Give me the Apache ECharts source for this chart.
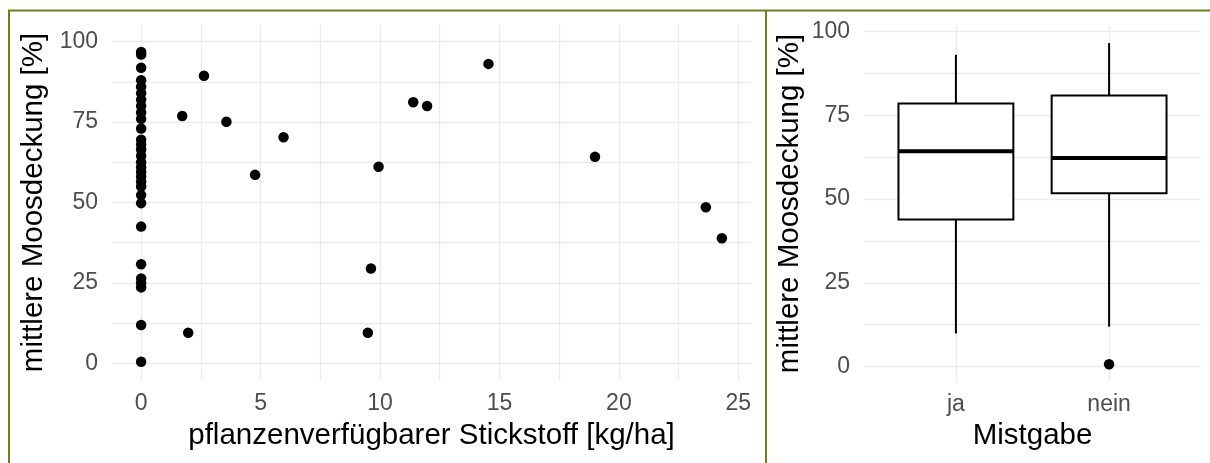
<!DOCTYPE html>
<html>
<head>
<meta charset="utf-8">
<title>Moosdeckung</title>
<script src="https://cdn.jsdelivr.net/npm/echarts@6/dist/echarts.min.js"></script>
<style>
  html, body { margin: 0; padding: 0; background: #fff; }
  #main { width: 1210px; height: 463px; }
</style>
</head>
<body>
<div id="main"></div>
<script>
// Streudiagramm: Stickstoff [kg/ha] gegen mittlere Moosdeckung [%]
var stickstoff = [0, 0, 0, 0, 0, 0, 0, 0, 0, 0,
                  0, 0, 0, 0, 0, 0, 0, 0, 0, 0,
                  0, 0, 0, 0, 0, 0, 0, 0, 0, 0,
                  2.63, 1.72, 3.57, 5.96, 4.77, 1.97, 9.49, 9.62, 9.94,
                  11.39, 11.97, 14.54, 19.0, 23.64, 24.31];
var moos = [96.8, 96.0, 91.9, 88.0, 86.0, 84.0, 82.0, 80.0, 78.0, 76.0,
            73.0, 69.5, 68.0, 66.5, 64.5, 62.5, 61.0, 59.5, 58.0, 56.5,
            55.0, 52.3, 49.8, 42.5, 30.8, 26.4, 24.9, 23.6, 11.9, 0.5,
            89.4, 76.9, 75.1, 70.3, 58.6, 9.5, 9.5, 29.5, 61.1,
            81.2, 80.0, 93.1, 64.2, 48.5, 38.9];

// Boxplot nach Mistgabe
var mistgabe = ['ja', 'nein'];
var boxLow = [9.9, 11.9];
var boxQ1 = [43.9, 51.7];
var boxMedian = [64.2, 62.2];
var boxQ3 = [78.5, 80.9];
var boxHigh = [93.0, 96.5];
var ausreisserGruppe = ['nein'];
var ausreisserWert = [0.7];

// Achsen
var xTicks = [0, 5, 10, 15, 20, 25];
var xGrid = [0, 2.5, 5, 7.5, 10, 12.5, 15, 17.5, 20, 22.5, 25];
var yTicks = [0, 25, 50, 75, 100];
var yGrid = [0, 12.5, 25, 37.5, 50, 62.5, 75, 87.5, 100];

var FONT = 'Liberation Sans, Arial, sans-serif';
var GRID_COL = '#ebebeb';
var FRAME_COL = '#6f7f1a';

var scatterData = stickstoff.map(function (x, i) { return [x, moos[i]]; });
var boxData = mistgabe.map(function (c, i) {
  return [i + 1, boxLow[i], boxQ1[i], boxMedian[i], boxQ3[i], boxHigh[i]];
});
var outlierData = ausreisserGruppe.map(function (c, i) {
  return [mistgabe.indexOf(c) + 1, ausreisserWert[i]];
});

function valueAxis(gridIndex, min, max, labels, lines, opts) {
  var ax = {
    type: 'value',
    gridIndex: gridIndex,
    min: min,
    max: max,
    axisLine: { show: false },
    axisTick: { show: false, customValues: lines },
    axisLabel: {
      customValues: labels,
      color: '#4d4d4d',
      fontSize: 23,
      fontFamily: FONT
    },
    splitLine: { show: true, lineStyle: { color: GRID_COL, width: 1.3 } },
    nameLocation: 'middle',
    nameTextStyle: { color: '#000', fontSize: 29.5, fontFamily: FONT }
  };
  for (var k in opts) {
    if (k === 'axisLabel') {
      for (var j in opts[k]) ax.axisLabel[j] = opts[k][j];
    } else {
      ax[k] = opts[k];
    }
  }
  return ax;
}

function renderBox(params, api) {
  var x = api.value(0);
  var pLo = api.coord([x, api.value(1)]);
  var pQ1 = api.coord([x, api.value(2)]);
  var pMed = api.coord([x, api.value(3)]);
  var pQ3 = api.coord([x, api.value(4)]);
  var pHi = api.coord([x, api.value(5)]);
  var half = api.size([0.75, 0])[0] / 2;
  var thin = { stroke: '#000', lineWidth: 2 };
  return {
    type: 'group',
    children: [
      { type: 'line', shape: { x1: pHi[0], y1: pHi[1], x2: pQ3[0], y2: pQ3[1] }, style: thin },
      { type: 'line', shape: { x1: pQ1[0], y1: pQ1[1], x2: pLo[0], y2: pLo[1] }, style: thin },
      {
        type: 'rect',
        shape: { x: pQ3[0] - half, y: pQ3[1], width: half * 2, height: pQ1[1] - pQ3[1] },
        style: { fill: '#fff', stroke: '#000', lineWidth: 2 }
      },
      {
        type: 'line',
        shape: { x1: pMed[0] - half, y1: pMed[1], x2: pMed[0] + half, y2: pMed[1] },
        style: { stroke: '#000', lineWidth: 4 }
      }
    ]
  };
}

var option = {
  backgroundColor: '#fff',
  animation: false,
  grid: [
    { left: 112, top: 25, width: 639, height: 355 },
    { left: 864, top: 26, width: 337, height: 355 }
  ],
  xAxis: [
    valueAxis(0, -1.22, 25.53, xTicks, xGrid, {
      name: 'pflanzenverfügbarer Stickstoff [kg/ha]',
      nameGap: 41,
      axisLabel: { margin: 12 }
    }),
    valueAxis(1, 0.4, 2.6, [1, 2], [1, 2], {
      name: 'Mistgabe',
      nameGap: 40,
      axisLabel: {
        margin: 12,
        formatter: function (v) { return mistgabe[Math.round(v) - 1]; }
      }
    })
  ],
  yAxis: [
    valueAxis(0, -5.2, 105.2, yTicks, yGrid, {
      name: 'mittlere Moosdeckung [%]',
      nameGap: 60,
      axisLabel: { margin: 14 }
    }),
    valueAxis(1, -4.3, 101.6, yTicks, yGrid, {
      name: 'mittlere Moosdeckung [%]',
      nameGap: 59,
      axisLabel: { margin: 14 }
    })
  ],
  series: [
    {
      type: 'scatter',
      xAxisIndex: 0,
      yAxisIndex: 0,
      symbol: 'circle',
      symbolSize: 10.5,
      itemStyle: { color: '#000', opacity: 1 },
      data: scatterData
    },
    {
      type: 'custom',
      xAxisIndex: 1,
      yAxisIndex: 1,
      renderItem: renderBox,
      encode: { x: 0, y: [1, 2, 3, 4, 5] },
      data: boxData
    },
    {
      type: 'scatter',
      xAxisIndex: 1,
      yAxisIndex: 1,
      symbol: 'circle',
      symbolSize: 10.5,
      itemStyle: { color: '#000', opacity: 1 },
      data: outlierData
    }
  ],
  graphic: [
    { type: 'line', shape: { x1: 8, y1: 10.5, x2: 1210, y2: 10.5 }, style: { stroke: FRAME_COL, lineWidth: 2 } },
    { type: 'line', shape: { x1: 9, y1: 10, x2: 9, y2: 463 }, style: { stroke: FRAME_COL, lineWidth: 2 } },
    { type: 'line', shape: { x1: 766, y1: 10, x2: 766, y2: 463 }, style: { stroke: FRAME_COL, lineWidth: 2 } }
  ]
};

var myChart = echarts.init(document.getElementById('main'));
myChart.setOption(option);
</script>
</body>
</html>
